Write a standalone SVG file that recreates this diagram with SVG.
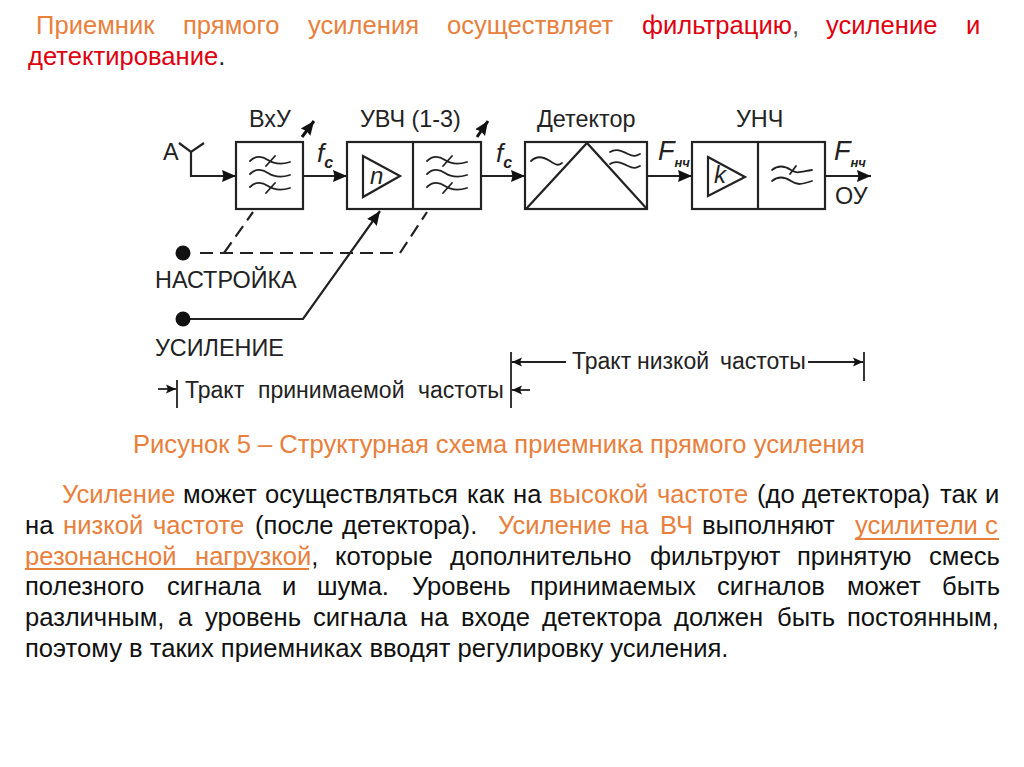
<svg xmlns="http://www.w3.org/2000/svg" width="1024" height="767" viewBox="0 0 1024 767">
<style>
text{font-family:"Liberation Sans",Arial,sans-serif}
.h{font-size:25.6px}.b{font-size:25.6px;fill:#111}
.o{fill:#e8803c}.r{fill:#e00010}.c{font-size:25.6px;fill:#e8803c}
.l{font-size:23.4px;fill:#222}.i{font-style:italic;fill:#222}
.box{fill:#fff;stroke:#222;stroke-width:2.2}
.w{fill:none;stroke:#222;stroke-width:1.8;stroke-linecap:round}
.s{fill:none;stroke:#222;stroke-width:2.2}
.k{fill:none;stroke:#111;stroke-width:3}
.d{fill:none;stroke:#222;stroke-width:2.2;stroke-dasharray:13 7}
.t{fill:none;stroke:#222;stroke-width:1.8}
.ul{fill:none;stroke:#e8803c;stroke-width:1.8}
</style>
<defs>
<marker id="a" markerUnits="userSpaceOnUse" markerWidth="15" markerHeight="14" refX="14" refY="7" orient="auto"><path d="M0 1L14 7L0 13L1.5 7Z" fill="#111"/></marker>
<marker id="m" markerUnits="userSpaceOnUse" markerWidth="11" markerHeight="10" refX="10" refY="5" orient="auto"><path d="M0 0.5L10 5L0 9.5L2 5Z" fill="#111"/></marker>
<path id="f3" d="M-20 -14C-14 -20 -8 -19 -2 -15S10 -10 20 -13M-20 -1C-14 -7 -8 -6 -2 -2S10 3 20 0M-20 12C-14 6 -8 7 -2 11S10 16 20 13M-4 -9L5 -19M-4 18L5 8"/>
</defs>
<rect width="1024" height="767" fill="#fff"/>
<g id="heading">
<text class="h o" y="34"><tspan x="36">Приемник</tspan><tspan x="183">прямого</tspan><tspan x="308">усиления</tspan><tspan x="447">осуществляет</tspan></text>
<text class="h r" y="34"><tspan x="642">фильтрацию<tspan fill="#555">,</tspan></tspan><tspan x="826">усиление</tspan><tspan x="966">и</tspan></text>
<text class="h r" x="28" y="65">детектирование<tspan fill="#222">.</tspan></text>
</g>
<g id="connectors">
<path class="s" d="M179 143L191 152L204 143M191 152V176H236" marker-end="url(#a)"/>
<path class="s" d="M303 176H347" marker-end="url(#a)"/>
<path class="s" d="M481 176H525" marker-end="url(#a)"/>
<path class="s" d="M647 176H692" marker-end="url(#a)"/>
<path class="s" d="M825 176H871" marker-end="url(#a)"/>
<path class="k" d="M302 137L314 121" marker-end="url(#a)"/>
<path class="k" d="M477 137L488 121" marker-end="url(#a)"/>
<path class="d" d="M200 253H400L427 212"/>
<path class="d" d="M224 253L253 212"/>
<path class="s" d="M183 319H303L380 211" marker-end="url(#a)"/>
<circle cx="183" cy="253" r="7.5" fill="#111"/>
<circle cx="183" cy="319" r="7.5" fill="#111"/>
<path class="t" d="M177 380V408M511 352V408M864 352V381"/>
<path class="t" d="M158 389H176" marker-end="url(#m)"/>
<path class="t" d="M530 390H512" marker-end="url(#m)"/>
<path class="t" d="M566 362H512" marker-end="url(#m)"/>
<path class="t" d="M808 362H863" marker-end="url(#m)"/>
</g>
<g id="vxu">
<rect class="box" x="236" y="142" width="67" height="67"/>
<use href="#f3" class="w" x="270" y="175"/>
<text class="l" x="249" y="127">ВхУ</text>
</g>
<g id="uvch">
<rect class="box" x="347" y="142" width="134" height="67"/>
<path class="s" d="M413 142V209"/>
<path class="s" d="M363 156L400 176L363 197Z"/>
<text class="i" x="370" y="184" font-size="24">n</text>
<use href="#f3" class="w" x="447" y="175"/>
<text class="l" x="360" y="127">УВЧ (1-3)</text>
</g>
<g id="detector">
<rect class="box" x="525" y="142" width="122" height="67"/>
<path class="s" d="M526 209L587 143L647 209"/>
<path class="w" d="M531 161C537 155 544 157 550 161S558 166 562 163M610 152C616 148 622 151 628 154S636 156 640 154M610 164C616 160 622 163 628 166S636 168 640 166"/>
<text class="l" x="537" y="127">Детектор</text>
</g>
<g id="unch">
<rect class="box" x="692" y="142" width="133" height="67"/>
<path class="s" d="M758 142V209"/>
<path class="s" d="M708 157L745 177L708 196Z"/>
<text class="i" x="714" y="183" font-size="24">k</text>
<path class="w" d="M772 170C778 165 785 166 791 170S800 172 812 170M772 181C778 176 785 177 791 181S800 185 812 181M790 174L796 166"/>
<text class="l" x="736" y="127">УНЧ</text>
</g>
<g id="labels">
<text class="l" x="163" y="160">А</text>
<text class="i" x="317" y="162" font-size="26">f<tspan font-size="16" dy="6" font-weight="bold">c</tspan></text>
<text class="i" x="496" y="162" font-size="26">f<tspan font-size="16" dy="6" font-weight="bold">c</tspan></text>
<text class="i" x="658" y="160" font-size="27">F<tspan font-size="13" dy="7" font-weight="bold">нч</tspan></text>
<text class="i" x="834" y="160" font-size="27">F<tspan font-size="13" dy="7" font-weight="bold">нч</tspan></text>
<text class="l" x="835" y="204">ОУ</text>
<text class="l" x="155" y="288">НАСТРОЙКА</text>
<text class="l" x="155" y="356">УСИЛЕНИЕ</text>
<text class="l" y="398" style="font-size:23px"><tspan x="185">Тракт</tspan><tspan x="258">принимаемой</tspan><tspan x="418">частоты</tspan></text>
<text class="l" y="369" style="font-size:23px"><tspan x="572">Тракт</tspan><tspan x="637">низкой</tspan><tspan x="720">частоты</tspan></text>
</g>
<g id="caption"><text class="c" x="133" y="453">Рисунок 5 – Структурная схема приемника прямого усиления</text></g>
<g id="body">
<text class="b" y="503"><tspan class="o" x="62">Усиление</tspan><tspan x="183">может</tspan><tspan x="265">осуществляться</tspan><tspan x="467">как</tspan><tspan x="513">на</tspan><tspan class="o" x="549">высокой</tspan><tspan class="o" x="657">частоте</tspan><tspan x="757">(до</tspan><tspan x="802">детектора)</tspan><tspan x="940">так</tspan><tspan x="985">и</tspan></text>
<text class="b" y="534"><tspan x="25">на</tspan><tspan class="o" x="63">низкой</tspan><tspan class="o" x="153">частоте</tspan><tspan x="255">(после</tspan><tspan x="342">детектора).</tspan><tspan class="o" x="498">Усиление</tspan><tspan class="o" x="620">на</tspan><tspan class="o" x="660">ВЧ</tspan><tspan x="702">выполняют</tspan><tspan class="o" x="855">усилители</tspan><tspan class="o" x="985">с</tspan></text>
<text class="b" y="565"><tspan class="o" x="25">резонансной</tspan><tspan class="o" x="195">нагрузкой<tspan fill="#111">,</tspan></tspan><tspan x="335">которые</tspan><tspan x="450">дополнительно</tspan><tspan x="650">фильтруют</tspan><tspan x="797">принятую</tspan><tspan x="929">смесь</tspan></text>
<text class="b" y="595"><tspan x="25">полезного</tspan><tspan x="167">сигнала</tspan><tspan x="282">и</tspan><tspan x="317">шума.</tspan><tspan x="412">Уровень</tspan><tspan x="530">принимаемых</tspan><tspan x="717">сигналов</tspan><tspan x="847">может</tspan><tspan x="942">быть</tspan></text>
<text class="b" y="626"><tspan x="25">различным,</tspan><tspan x="178">а</tspan><tspan x="205">уровень</tspan><tspan x="313">сигнала</tspan><tspan x="420">на</tspan><tspan x="461">входе</tspan><tspan x="542">детектора</tspan><tspan x="674">должен</tspan><tspan x="777">быть</tspan><tspan x="847">постоянным,</tspan></text>
<text class="b" x="25" y="657">поэтому в таких приемниках вводят регулировку усиления.</text>
<path class="ul" d="M25 569H309M855 539H999"/>
</g>
</svg>
